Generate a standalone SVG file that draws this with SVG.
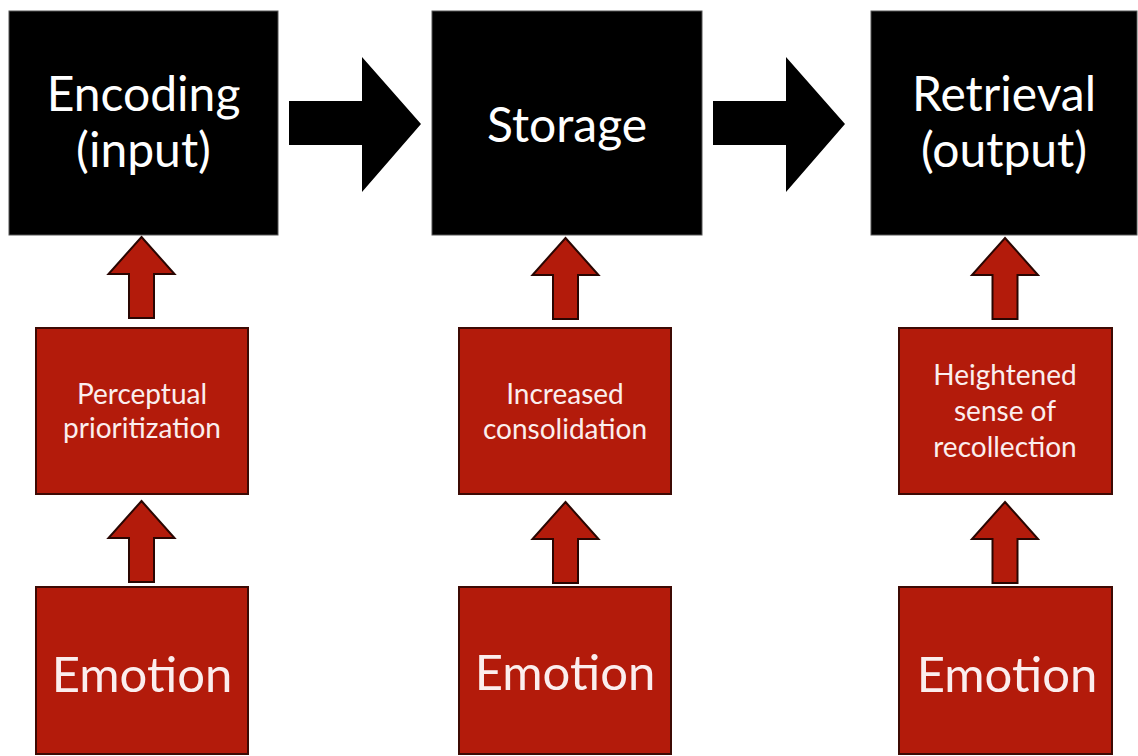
<svg xmlns="http://www.w3.org/2000/svg" xmlns:xlink="http://www.w3.org/1999/xlink" width="1138" height="756" viewBox="0 0 1138 756">
  <style>
    .stage { fill: #000000; stroke: #555555; stroke-width: 1; }
    .red { fill: #b31b0b; stroke: #3d0a04; stroke-width: 2; }
    .big { font-family: Lato, "Open Sans", "Liberation Sans", sans-serif; font-size: 48px; fill: #ffffff; text-anchor: middle; }
    .small { font-family: Lato, "Open Sans", "Liberation Sans", sans-serif; font-size: 28px; fill: #fbeeee; text-anchor: middle; }
    .emo { font-family: Lato, "Open Sans", "Liberation Sans", sans-serif; font-size: 49px; fill: #fbeeee; text-anchor: middle; }
    .uparrow { fill: #b31b0b; stroke: #2a0602; stroke-width: 2; stroke-linejoin: miter; }
    .rarrow { fill: #000000; }
  </style>
  <defs>
    <path id="up" d="M0,0 L33,37 L12.5,37 L12.5,81 L-12.5,81 L-12.5,37 L-33,37 Z"/>
    <path id="right" d="M0,44 L73,44 L73,0 L132,67 L73,135 L73,88 L0,88 Z"/>
  </defs>
  <rect x="0" y="0" width="1138" height="756" fill="#ffffff"/>

  <g id="connectors">
    <use xlink:href="#right" class="rarrow" transform="translate(289,57)"/>
    <use xlink:href="#right" class="rarrow" transform="translate(713,57)"/>
    <use xlink:href="#up" class="uparrow" transform="translate(141.5,237)"/>
    <use xlink:href="#up" class="uparrow" transform="translate(141.5,501)"/>
    <use xlink:href="#up" class="uparrow" transform="translate(565.5,238)"/>
    <use xlink:href="#up" class="uparrow" transform="translate(565.5,502)"/>
    <use xlink:href="#up" class="uparrow" transform="translate(1005,238)"/>
    <use xlink:href="#up" class="uparrow" transform="translate(1005,502)"/>
  </g>

  <g id="encoding">
    <rect class="stage" x="9" y="11" width="269" height="224"/>
    <text class="big" x="143.5" y="111">Encoding</text>
    <text class="big" x="143.5" y="167">(input)</text>
  </g>
  <g id="storage">
    <rect class="stage" x="432" y="11" width="270" height="224"/>
    <text class="big" x="567" y="142">Storage</text>
  </g>
  <g id="retrieval">
    <rect class="stage" x="871" y="11" width="266" height="224"/>
    <text class="big" x="1004" y="111">Retrieval</text>
    <text class="big" x="1004" y="167">(output)</text>
  </g>

  <g id="perceptual">
    <rect class="red" x="36" y="328" width="212" height="166"/>
    <text class="small" x="142" y="404">Perceptual</text>
    <text class="small" x="142" y="438">prioritization</text>
  </g>
  <g id="consolidation">
    <rect class="red" x="459" y="328" width="212" height="166"/>
    <text class="small" x="565" y="404">Increased</text>
    <text class="small" x="565" y="439">consolidation</text>
  </g>
  <g id="recollection">
    <rect class="red" x="899" y="328" width="213" height="166"/>
    <text class="small" x="1005" y="385">Heightened</text>
    <text class="small" x="1005" y="421">sense of</text>
    <text class="small" x="1005" y="457">recollection</text>
  </g>

  <g id="emotion1">
    <rect class="red" x="36" y="587" width="212" height="167"/>
    <text class="emo" x="142" y="692">Emotion</text>
  </g>
  <g id="emotion2">
    <rect class="red" x="459" y="587" width="212" height="167"/>
    <text class="emo" x="565" y="690">Emotion</text>
  </g>
  <g id="emotion3">
    <rect class="red" x="899" y="587" width="213" height="167"/>
    <text class="emo" x="1007" y="692">Emotion</text>
  </g>
</svg>
